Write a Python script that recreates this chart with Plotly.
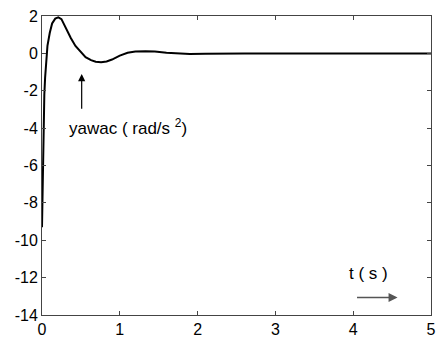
import plotly.graph_objects as go

# Yaw acceleration response over time
t_s = [0, 0.01, 0.02, 0.03, 0.04, 0.05, 0.07, 0.1, 0.13, 0.17, 0.21, 0.25,
       0.31, 0.37, 0.43, 0.5, 0.56, 0.63, 0.69, 0.76, 0.83, 0.9, 1.0, 1.1,
       1.2, 1.33, 1.45, 1.6, 1.75, 1.9, 2.1, 2.3, 2.6, 3.0, 3.5, 4.0, 4.5, 5.0]
yawac = [-9.3, -6.6, -4.1, -2.2, -1.3, -0.6, 0.4, 1.1, 1.6, 1.86, 1.93, 1.83,
         1.3, 0.82, 0.4, 0.05, -0.2, -0.36, -0.45, -0.48, -0.43, -0.33, -0.12, 0.03,
         0.1, 0.12, 0.1, 0.03, -0.02, -0.03, -0.02, 0.0, 0.0, 0.0, 0.0, 0.0, 0.0, 0.0]

x_ticks = [0, 1, 2, 3, 4, 5]
y_ticks = [2, 0, -2, -4, -6, -8, -10, -12, -14]
y_tick_text = ["2", "0", "-2", "-4", "-6", "-8", "-10", "-12", "-14"]

FONT = "Liberation Sans, Arial"

fig = go.Figure()
fig.add_trace(go.Scatter(x=t_s, y=yawac, mode="lines",
                         line=dict(color="black", width=2), showlegend=False))

axis_style = dict(showgrid=False, zeroline=False, showline=True, mirror="ticks",
                  linecolor="#444", linewidth=1, ticks="inside", ticklen=4,
                  tickcolor="#444", tickfont=dict(family=FONT, size=16, color="black"))

fig.update_xaxes(range=[0, 5], tickvals=x_ticks, **axis_style)
fig.update_yaxes(range=[-14, 2], tickvals=y_ticks, ticktext=y_tick_text, **axis_style)

# arrow pointing at the curve and its label
fig.add_annotation(x=0.51, y=-1.1, ax=0.51, ay=-3.05, xref="x", yref="y",
                   axref="x", ayref="y", text="", showarrow=True,
                   arrowhead=2, arrowsize=1.2, arrowwidth=1.2, arrowcolor="black")
fig.add_annotation(x=0.32, y=-3.95, xref="x", yref="y", xanchor="left",
                   text="yawac ( rad/s <sup>2</sup>)", showarrow=False,
                   font=dict(family=FONT, size=17, color="black"))

# time direction marker
fig.add_annotation(x=4.57, y=-13.06, ax=4.03, ay=-13.06, xref="x", yref="y",
                   axref="x", ayref="y", text="", showarrow=True,
                   arrowhead=2, arrowsize=1.2, arrowwidth=1.5, arrowcolor="#555")
fig.add_annotation(x=4.2, y=-11.8, xref="x", yref="y",
                   text="t ( s )", showarrow=False,
                   font=dict(family=FONT, size=17, color="black"))

fig.update_layout(width=443, height=345, margin=dict(l=42, r=7, t=16, b=21),
                  plot_bgcolor="white", paper_bgcolor="white")

fig.write_html("out.html")
